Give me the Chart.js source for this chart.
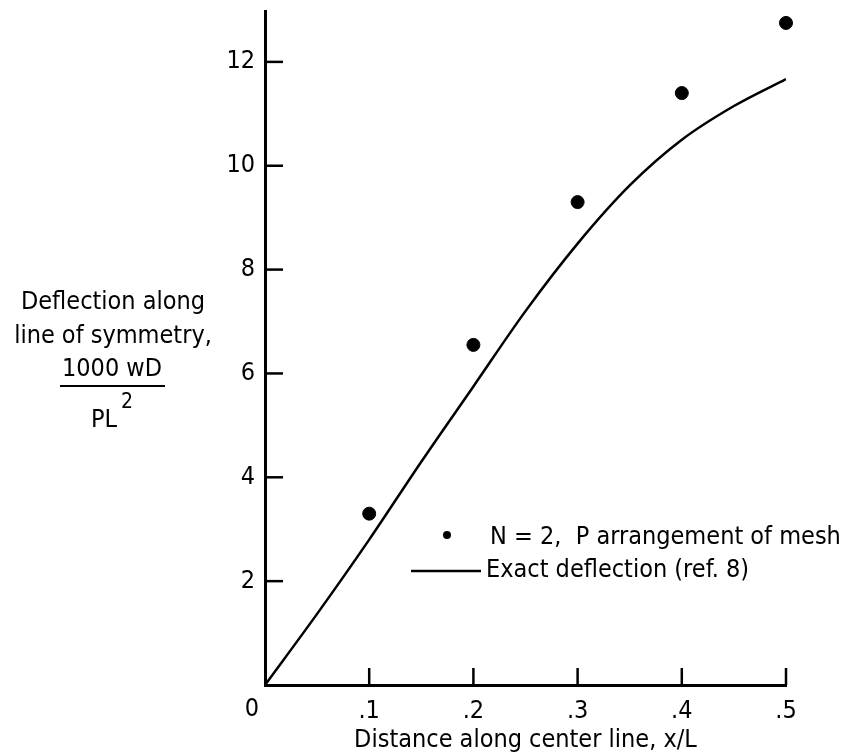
<!DOCTYPE html>
<html>
<head>
<meta charset="utf-8">
<script src="https://cdn.jsdelivr.net/npm/chart.js@4"></script>
<style>
  html, body { margin: 0; padding: 0; background: #fff; }
  #wrap { width: 853px; height: 755px; }
</style>
</head>
<body>
<div id="wrap"><canvas id="grafico"></canvas></div>
<script>
// dados
var xPontos = [0.1, 0.2, 0.3, 0.4, 0.5];
var yPontos = [3.3, 6.55, 9.3, 11.4, 12.75];
var xExata = [0, 0.05, 0.1, 0.15, 0.2, 0.25, 0.3, 0.35, 0.4, 0.45, 0.5];
var yExata = [0, 1.37, 2.8, 4.3, 5.75, 7.2, 8.5, 9.62, 10.5, 11.15, 11.67];
var xTicks = [0, 0.1, 0.2, 0.3, 0.4, 0.5];
var xTickLabels = ['0', '.1', '.2', '.3', '.4', '.5'];
var yTicks = [2, 4, 6, 8, 10, 12];
var legendaTextos = ['N = 2,  P arrangement of mesh', 'Exact deflection (ref. 8)'];

var fonte = '"DejaVu Sans Condensed", "Liberation Sans Narrow", sans-serif';

// marcas de escala para dentro + titulo do eixo y + legenda
var extras = {
  id: 'extras',
  afterDraw: function (chart) {
    var c = chart.ctx, xs = chart.scales.x, ys = chart.scales.y;
    var x0 = xs.getPixelForValue(0), y0 = ys.getPixelForValue(0);
    c.save();
    c.strokeStyle = '#000';
    c.lineWidth = 2.5;
    xTicks.forEach(function (v) {
      if (v === 0) return;
      var px = xs.getPixelForValue(v);
      c.beginPath(); c.moveTo(px, y0); c.lineTo(px, y0 - 17); c.stroke();
    });
    yTicks.forEach(function (v) {
      var py = ys.getPixelForValue(v);
      c.beginPath(); c.moveTo(x0, py); c.lineTo(x0 + 18, py); c.stroke();
    });

    c.fillStyle = '#000';
    c.textBaseline = 'middle';
    c.font = '25px ' + fonte;
    c.textAlign = 'center';
    c.fillText('0', x0 - 13, y0 + 24);

    // titulo do eixo y
    c.fillText('Deflection along', 113, 302);
    c.fillText('line of symmetry,', 113, 336);
    c.fillText('1000 wD', 112, 369);
    c.lineWidth = 2;
    c.beginPath(); c.moveTo(60, 386); c.lineTo(165, 386); c.stroke();
    c.fillText('PL', 104, 420);
    c.font = '21px ' + fonte;
    c.fillText('2', 127, 403);

    // legenda
    c.font = '25px ' + fonte;
    c.textAlign = 'left';
    c.beginPath(); c.arc(447, 535, 4, 0, Math.PI * 2); c.fill();
    c.fillText(legendaTextos[0], 490, 537);
    c.lineWidth = 2.5;
    c.beginPath(); c.moveTo(411, 571); c.lineTo(481, 571); c.stroke();
    c.fillText(legendaTextos[1], 486, 570);
    c.restore();
  }
};

var ctx = document.getElementById('grafico').getContext('2d');
new Chart(ctx, {
  type: 'scatter',
  data: {
    datasets: [{
      label: legendaTextos[0],
      data: xPontos.map(function (x, i) { return { x: x, y: yPontos[i] }; }),
      backgroundColor: '#000',
      borderColor: '#000',
      pointRadius: 6.5,
      showLine: false,
      clip: false
    }, {
      label: legendaTextos[1],
      data: xExata.map(function (x, i) { return { x: x, y: yExata[i] }; }),
      borderColor: '#000',
      borderWidth: 2.5,
      pointRadius: 0,
      showLine: true,
      cubicInterpolationMode: 'monotone'
    }]
  },
  options: {
    responsive: true,
    maintainAspectRatio: false,
    animation: false,
    layout: { padding: { left: 0, top: 11, right: 67, bottom: 0 } },
    plugins: { legend: { display: false }, tooltip: { enabled: false } },
    scales: {
      x: {
        type: 'linear',
        min: 0, max: 0.5,
        afterBuildTicks: function (s) { s.ticks = xTicks.map(function (v) { return { value: v }; }); },
        afterFit: function (s) { s.height = 70; },
        grid: { display: false, drawTicks: false },
        border: { display: true, color: '#000', width: 3 },
        ticks: {
          color: '#000',
          padding: 11,
          maxRotation: 0,
          font: { family: fonte, size: 25 },
          callback: function (v) {
            var i = xTicks.indexOf(v);
            return (i > 0) ? xTickLabels[i] : '';
          }
        },
        title: {
          display: true,
          text: 'Distance along center line, x/L',
          color: '#000',
          font: { family: fonte, size: 25 },
          padding: { top: 3, bottom: 0 }
        }
      },
      y: {
        type: 'linear',
        min: 0, max: 12.98,
        afterBuildTicks: function (s) { s.ticks = yTicks.map(function (v) { return { value: v }; }); },
        afterFit: function (s) { s.width = 265; s.paddingTop = 0; s.paddingBottom = 0; },
        grid: { display: false, drawTicks: false },
        border: { display: true, color: '#000', width: 3 },
        ticks: {
          color: '#000',
          padding: 10,
          font: { family: fonte, size: 25 }
        }
      }
    }
  },
  plugins: [extras]
});
</script>
</body>
</html>
